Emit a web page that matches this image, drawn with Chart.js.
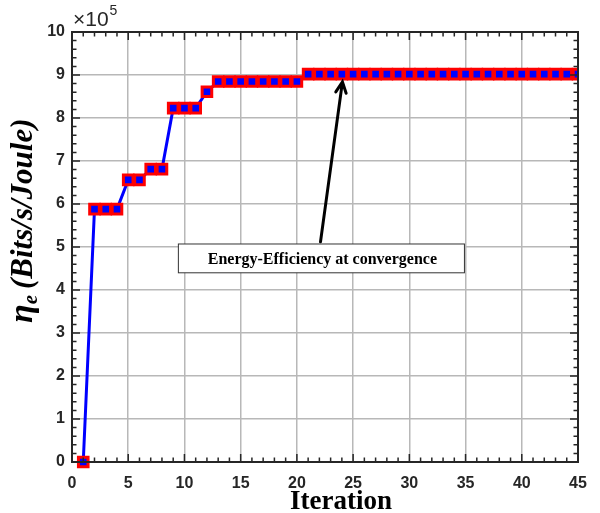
<!DOCTYPE html>
<html>
<head>
<meta charset="utf-8">
<script src="https://cdn.jsdelivr.net/npm/chart.js@4.4.0/dist/chart.umd.min.js"></script>
<style>
  body { margin: 0; background: #fff; }
  #wrap { width: 600px; height: 513px; }
</style>
</head>
<body>
<div id="wrap"><canvas id="eeChart"></canvas></div>
<script>
// Iterations and energy efficiency (Bits/s/Joule)
const iterations = [];
for (let i = 1; i <= 45; i++) iterations.push(i);

const efficiency = [
    0,
    588000, 588000, 588000,
    656000, 656000,
    681000, 681000,
    823000, 823000, 823000,
    861000,
    885000, 885000, 885000, 885000, 885000, 885000, 885000, 885000,
    902000, 902000, 902000, 902000, 902000, 902000, 902000, 902000, 902000, 902000,
    902000, 902000, 902000, 902000, 902000, 902000, 902000, 902000, 902000, 902000,
    902000, 902000, 902000, 902000, 902000
];

const xTicks = [0, 5, 10, 15, 20, 25, 30, 35, 40, 45];
const yTicks = [0, 1e5, 2e5, 3e5, 4e5, 5e5, 6e5, 7e5, 8e5, 9e5, 1e6];

// annotation: text box corners and arrow (in data units)
const noteText = 'Energy-Efficiency at convergence';
const noteBox = [9.46, 5.07e5, 34.9, 4.40e5];
const noteArrow = [22.1, 5.12e5, 24.05, 8.84e5];

// Frame, inward ticks, titles and the annotation
const decorPlugin = {
    id: 'decor',
    afterDatasetsDraw(chart) {
        const ctx = chart.ctx;
        const area = chart.chartArea;
        const xs = chart.scales.x;
        const ys = chart.scales.y;

        ctx.save();
        ctx.strokeStyle = '#262626';
        ctx.lineWidth = 1.5;

        // x ticks every 1, major every 5
        for (let v = 0; v <= 45; v++) {
            const px = xs.getPixelForValue(v);
            const len = v % 5 === 0 ? 8 : 4.5;
            ctx.beginPath();
            ctx.moveTo(px, area.bottom); ctx.lineTo(px, area.bottom - len);
            ctx.moveTo(px, area.top); ctx.lineTo(px, area.top + len);
            ctx.stroke();
        }
        // y ticks every 0.2e5, major every 1e5
        for (let k = 0; k <= 50; k++) {
            const py = ys.getPixelForValue(k * 2e4);
            const len = k % 5 === 0 ? 8 : 4.5;
            ctx.beginPath();
            ctx.moveTo(area.left, py); ctx.lineTo(area.left + len, py);
            ctx.moveTo(area.right, py); ctx.lineTo(area.right - len, py);
            ctx.stroke();
        }

        // box frame
        ctx.lineWidth = 2;
        ctx.strokeRect(area.left, area.top, area.right - area.left, area.bottom - area.top);

        // exponent label
        ctx.fillStyle = '#262626';
        ctx.textBaseline = 'alphabetic';
        ctx.textAlign = 'left';
        ctx.font = '21px "Liberation Sans", Arial, sans-serif';
        ctx.fillText('\u00d710', area.left + 1, area.top - 6);
        const w10 = ctx.measureText('\u00d710').width;
        ctx.font = '14px "Liberation Sans", Arial, sans-serif';
        ctx.fillText('5', area.left + 2 + w10, area.top - 17);

        // x title
        ctx.fillStyle = '#000';
        ctx.font = 'bold 27px "Liberation Serif", "Times New Roman", serif';
        ctx.textAlign = 'center';
        ctx.fillText('Iteration', 341, 509);

        // y title
        ctx.save();
        ctx.translate(32, 323);
        ctx.rotate(-Math.PI / 2);
        ctx.textAlign = 'left';
        ctx.font = 'bold italic 34px "Liberation Serif", "Times New Roman", serif';
        ctx.fillText('\u03b7', 0, 0);
        let off = ctx.measureText('\u03b7').width;
        ctx.font = 'bold italic 21px "Liberation Serif", "Times New Roman", serif';
        ctx.fillText('e', off, 5);
        off += ctx.measureText('e').width + 6;
        ctx.font = 'bold italic 31px "Liberation Serif", "Times New Roman", serif';
        ctx.fillText('(Bits/s/Joule)', off, 0);
        ctx.restore();

        // annotation box
        const bx1 = xs.getPixelForValue(noteBox[0]);
        const by1 = ys.getPixelForValue(noteBox[1]);
        const bx2 = xs.getPixelForValue(noteBox[2]);
        const by2 = ys.getPixelForValue(noteBox[3]);
        ctx.fillStyle = '#fff';
        ctx.fillRect(bx1, by1, bx2 - bx1, by2 - by1);
        ctx.strokeStyle = '#333';
        ctx.lineWidth = 1;
        ctx.strokeRect(bx1, by1, bx2 - bx1, by2 - by1);
        ctx.fillStyle = '#000';
        ctx.font = 'bold 16px "Liberation Serif", "Times New Roman", serif';
        ctx.textAlign = 'center';
        ctx.textBaseline = 'middle';
        ctx.fillText(noteText, (bx1 + bx2) / 2 + 1, (by1 + by2) / 2 + 1);

        // arrow
        const ax1 = xs.getPixelForValue(noteArrow[0]);
        const ay1 = ys.getPixelForValue(noteArrow[1]);
        const ax2 = xs.getPixelForValue(noteArrow[2]);
        const ay2 = ys.getPixelForValue(noteArrow[3]);
        const ang = Math.atan2(ay2 - ay1, ax2 - ax1);
        ctx.strokeStyle = '#000';
        ctx.lineWidth = 3;
        ctx.lineCap = 'round';
        ctx.beginPath();
        ctx.moveTo(ax1, ay1);
        ctx.lineTo(ax2, ay2);
        const head = 12;
        ctx.moveTo(ax2 - head * Math.cos(ang - 0.45), ay2 - head * Math.sin(ang - 0.45));
        ctx.lineTo(ax2, ay2);
        ctx.lineTo(ax2 - head * Math.cos(ang + 0.45), ay2 - head * Math.sin(ang + 0.45));
        ctx.stroke();

        ctx.restore();
    }
};

const points = iterations.map((x, i) => ({ x: x, y: efficiency[i] }));

new Chart(document.getElementById('eeChart'), {
    type: 'line',
    data: {
        datasets: [{
            data: points,
            borderColor: '#0000ff',
            borderWidth: 3,
            pointStyle: 'rect',
            pointRadius: 6.8,
            pointBorderWidth: 3,
            pointBackgroundColor: '#0000ff',
            pointBorderColor: '#ff0000',
            tension: 0,
            clip: { left: false, top: false, right: 0, bottom: false }
        }]
    },
    options: {
        responsive: true,
        maintainAspectRatio: false,
        animation: false,
        layout: { padding: { left: 0, top: 32, right: 22, bottom: 0 } },
        plugins: {
            legend: { display: false },
            tooltip: { enabled: false }
        },
        scales: {
            x: {
                type: 'linear',
                min: 0,
                max: 45,
                afterFit(scale) { scale.height = 51; },
                afterBuildTicks(scale) { scale.ticks = xTicks.map(v => ({ value: v })); },
                border: { display: false },
                grid: { color: '#b8b8b8', lineWidth: 1.5, drawTicks: false },
                ticks: {
                    padding: 12,
                    color: '#262626',
                    font: { family: '"Liberation Sans", Arial, sans-serif', size: 16, weight: 'bold' }
                }
            },
            y: {
                min: 0,
                max: 1e6,
                afterFit(scale) { scale.width = 72; },
                afterBuildTicks(scale) { scale.ticks = yTicks.map(v => ({ value: v })); },
                border: { display: false },
                grid: { color: '#b8b8b8', lineWidth: 1.5, drawTicks: false },
                ticks: {
                    padding: 7,
                    color: '#262626',
                    font: { family: '"Liberation Sans", Arial, sans-serif', size: 16, weight: 'bold' },
                    callback: v => String(Math.round(v / 1e5))
                }
            }
        }
    },
    plugins: [decorPlugin]
});
</script>
</body>
</html>
